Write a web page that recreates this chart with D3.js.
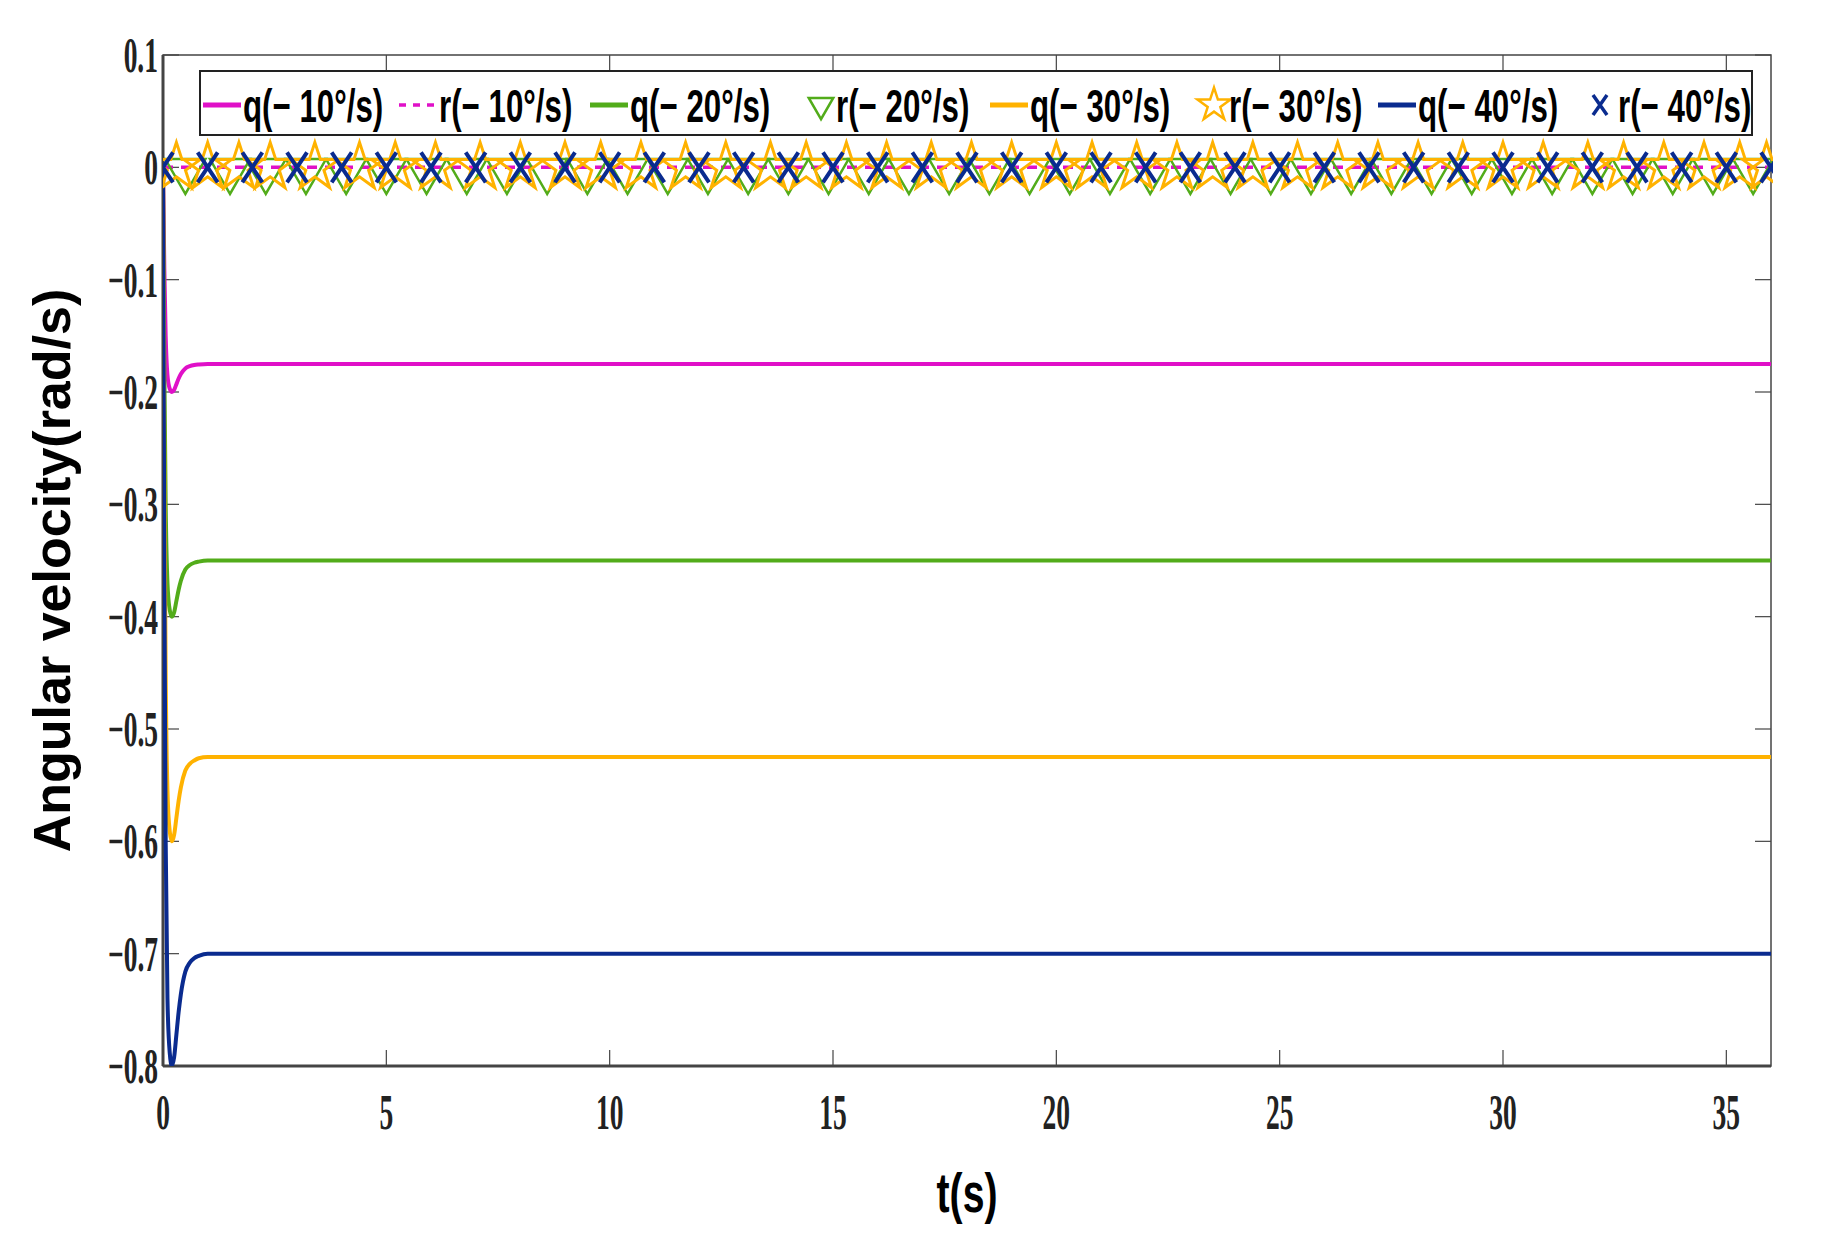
<!DOCTYPE html><html><head><meta charset="utf-8"><script src="https://cdn.jsdelivr.net/npm/d3@7"></script>
<style>body{margin:0;background:#fff}</style></head><body><svg id="c" width="1823" height="1233"></svg>
<script>
const tQ=[0,0.03,0.06,0.1,0.15,0.2,0.25,0.3,0.35,0.4,0.5,0.6,0.7,0.8,1.0,1.5,36];
const q10=[0,-0.09,-0.15,-0.185,-0.197,-0.2,-0.198,-0.193,-0.188,-0.184,-0.179,-0.177,-0.176,-0.1755,-0.175,-0.175,-0.175];
const q20=[0,-0.18,-0.3,-0.37,-0.394,-0.4,-0.396,-0.386,-0.376,-0.368,-0.358,-0.354,-0.352,-0.351,-0.35,-0.35,-0.35];
const q30=[0,-0.27,-0.45,-0.555,-0.591,-0.6,-0.594,-0.579,-0.564,-0.552,-0.537,-0.531,-0.528,-0.526,-0.525,-0.525,-0.525];
const q40=[0,-0.36,-0.6,-0.74,-0.788,-0.8,-0.792,-0.772,-0.752,-0.736,-0.716,-0.708,-0.704,-0.702,-0.7,-0.7,-0.7];
const r10t=[0,36], r10v=[0,0];
const triT=[0.5,1.5,2.3,3.2,4.1,5,5.9,6.8,7.7,8.6,9.5,10.4,11.3,12.2,13.1,14,14.9,15.8,16.7,17.6,18.5,19.4,20.3,21.2,22.1,23,23.9,24.8,25.7,26.6,27.5,28.4,29.3,30.2,31.1,32,32.9,33.8,34.7,35.6];
const starT=[0.3,1,1.7,2.4,3.4,4.4,5.2,6.1,7.1,8,9,9.8,10.7,11.7,12.6,13.6,14.4,15.3,16.2,17.2,18.1,19,20,20.8,21.8,22.7,23.5,24.4,25.4,26.3,27.2,28.1,29.1,30,30.9,31.9,32.7,33.6,34.5,35.3,35.9];
const xT=[0,1,2,3,4,5,6,7,8,9,10,11,12,13,14,15,16,17,18,19,20,21,22,23,24,25,26,27,28,29,30,31,32,33,34,35,36];
const xTicks=[0,5,10,15,20,25,30,35];
const yTicks=[0.1,0,-0.1,-0.2,-0.3,-0.4,-0.5,-0.6,-0.7,-0.8];
const legendLabels=["q(− 10°/s)","r(− 10°/s)","q(− 20°/s)","r(− 20°/s)","q(− 30°/s)","r(− 30°/s)","q(− 40°/s)","r(− 40°/s)"];
const C={m:"#e010c8",g:"#52ac1a",o:"#ffb200",b:"#0a2b8f"};
const L=163,R=1771,T=55,B=1066;
const svg=d3.select("#c");
const x=d3.scaleLinear().domain([0,36]).range([L,R]);
const y=d3.scaleLinear().domain([-0.8,0.1]).range([B,T]);
const g=svg.append("g");
const tf="Liberation Serif";
xTicks.forEach(v=>{g.append("line").attr("x1",x(v)).attr("x2",x(v)).attr("y1",B).attr("y2",B-16).attr("stroke","#444").attr("stroke-width",1.2);
 g.append("line").attr("x1",x(v)).attr("x2",x(v)).attr("y1",T).attr("y2",T+16).attr("stroke","#444").attr("stroke-width",1.2);
 g.append("text").attr("transform",`translate(${x(v)},${B+63}) scale(0.55,1)`).attr("text-anchor","middle").attr("font-family",tf).attr("font-weight","bold").attr("font-size",50).attr("fill","#222").text(v);});
yTicks.forEach(v=>{g.append("line").attr("x1",L).attr("x2",L+16).attr("y1",y(v)).attr("y2",y(v)).attr("stroke","#444").attr("stroke-width",1.2);
 g.append("line").attr("x1",R).attr("x2",R-16).attr("y1",y(v)).attr("y2",y(v)).attr("stroke","#444").attr("stroke-width",1.2);
 const s=v===0?"0":(v<0?"−":"")+d3.format(".1f")(Math.abs(v));
 g.append("text").attr("transform",`translate(${L-5},${y(v)+17}) scale(0.55,1)`).attr("text-anchor","end").attr("font-family",tf).attr("font-weight","bold").attr("font-size",50).attr("fill","#222").text(s);});
g.append("rect").attr("x",L).attr("y",T).attr("width",R-L).attr("height",B-T).attr("fill","none").attr("stroke","#444").attr("stroke-width",1.5);
g.append("line").attr("x1",L).attr("x2",R).attr("y1",B).attr("y2",B).attr("stroke","#444").attr("stroke-width",3);
g.append("line").attr("x1",L).attr("x2",L).attr("y1",T).attr("y2",B).attr("stroke","#444").attr("stroke-width",3);
svg.append("clipPath").attr("id","cp").append("rect").attr("x",L).attr("y",T-30).attr("width",R-L+2).attr("height",B-T+30);
const P=svg.append("g").attr("clip-path","url(#cp)");
const line=d3.line().x(d=>x(d[0])).y(d=>y(d[1])).curve(d3.curveMonotoneX);
[[q10,C.m],[q20,C.g],[q30,C.o],[q40,C.b]].forEach(([a,c])=>P.append("path").attr("d",line(tQ.map((t,i)=>[t,a[i]]))).attr("fill","none").attr("stroke",c).attr("stroke-width",4));
P.append("path").attr("d",d3.line()(r10t.map((t,i)=>[x(t),y(r10v[i])]))).attr("stroke",C.m).attr("stroke-width",3.5).attr("stroke-dasharray","10,8").attr("fill","none");
const tri=d3.symbol().type(d3.symbolTriangle).size(700)(), star=d3.symbol().type(d3.symbolStar).size(700)();
triT.forEach(t=>P.append("path").attr("d",tri).attr("transform",`translate(${x(t)},${y(-0.003)}) rotate(180)`).attr("fill","none").attr("stroke",C.g).attr("stroke-width",2.5));
starT.forEach(t=>P.append("path").attr("d",star).attr("transform",`translate(${x(t)},${y(0.0)})`).attr("fill","none").attr("stroke",C.o).attr("stroke-width",3));
xT.forEach(t=>P.append("path").attr("d","M-10,-15L10,15M-10,15L10,-15").attr("transform",`translate(${x(t)},${y(0)})`).attr("stroke",C.b).attr("stroke-width",4));
const lg=svg.append("g");
lg.append("rect").attr("x",200).attr("y",71).attr("width",1552).attr("height",64).attr("fill","#fff").attr("stroke","#222").attr("stroke-width",2);
const lx=[203,399,590,796,990,1189,1378,1578];
const kinds=[["l",C.m],["d",C.m],["l",C.g],["t",C.g],["l",C.o],["s",C.o],["l",C.b],["x",C.b]];
legendLabels.forEach((lab,i)=>{const x0=lx[i],cy=105;const [k,c]=kinds[i];
 if(k==="l")lg.append("line").attr("x1",x0).attr("x2",x0+38).attr("y1",cy).attr("y2",cy).attr("stroke",c).attr("stroke-width",5);
 if(k==="d")lg.append("line").attr("x1",x0).attr("x2",x0+38).attr("y1",cy).attr("y2",cy).attr("stroke",c).attr("stroke-width",3.5).attr("stroke-dasharray","7,7");
 if(k==="t")lg.append("path").attr("d",d3.symbol().type(d3.symbolTriangle).size(260)()).attr("transform",`translate(${x0+25},${cy}) rotate(180)`).attr("fill","none").attr("stroke",c).attr("stroke-width",2.5);
 if(k==="s")lg.append("path").attr("d",d3.symbol().type(d3.symbolStar).size(340)()).attr("transform",`translate(${x0+25},${cy})`).attr("fill","none").attr("stroke",c).attr("stroke-width",2.5);
 if(k==="x")lg.append("path").attr("d","M-7,-10L7,10M-7,10L7,-10").attr("transform",`translate(${x0+22},${cy})`).attr("stroke",c).attr("stroke-width",3.5);
 lg.append("text").attr("transform",`translate(${x0+40},${cy+17}) scale(0.68,1)`).attr("font-family","Liberation Sans").attr("font-weight","bold").attr("font-size",46).text(lab);});
svg.append("text").attr("transform",`translate(${(L+R)/2},1212) scale(0.7,1)`).attr("text-anchor","middle").attr("font-family","Liberation Sans").attr("font-weight","bold").attr("font-size",56).text("t(s)");
svg.append("text").attr("transform",`translate(70,${(T+B)/2+10}) rotate(-90)`).attr("text-anchor","middle").attr("font-family","Liberation Sans").attr("font-weight","bold").attr("font-size",52).text("Angular velocity(rad/s)");
</script></body></html>
